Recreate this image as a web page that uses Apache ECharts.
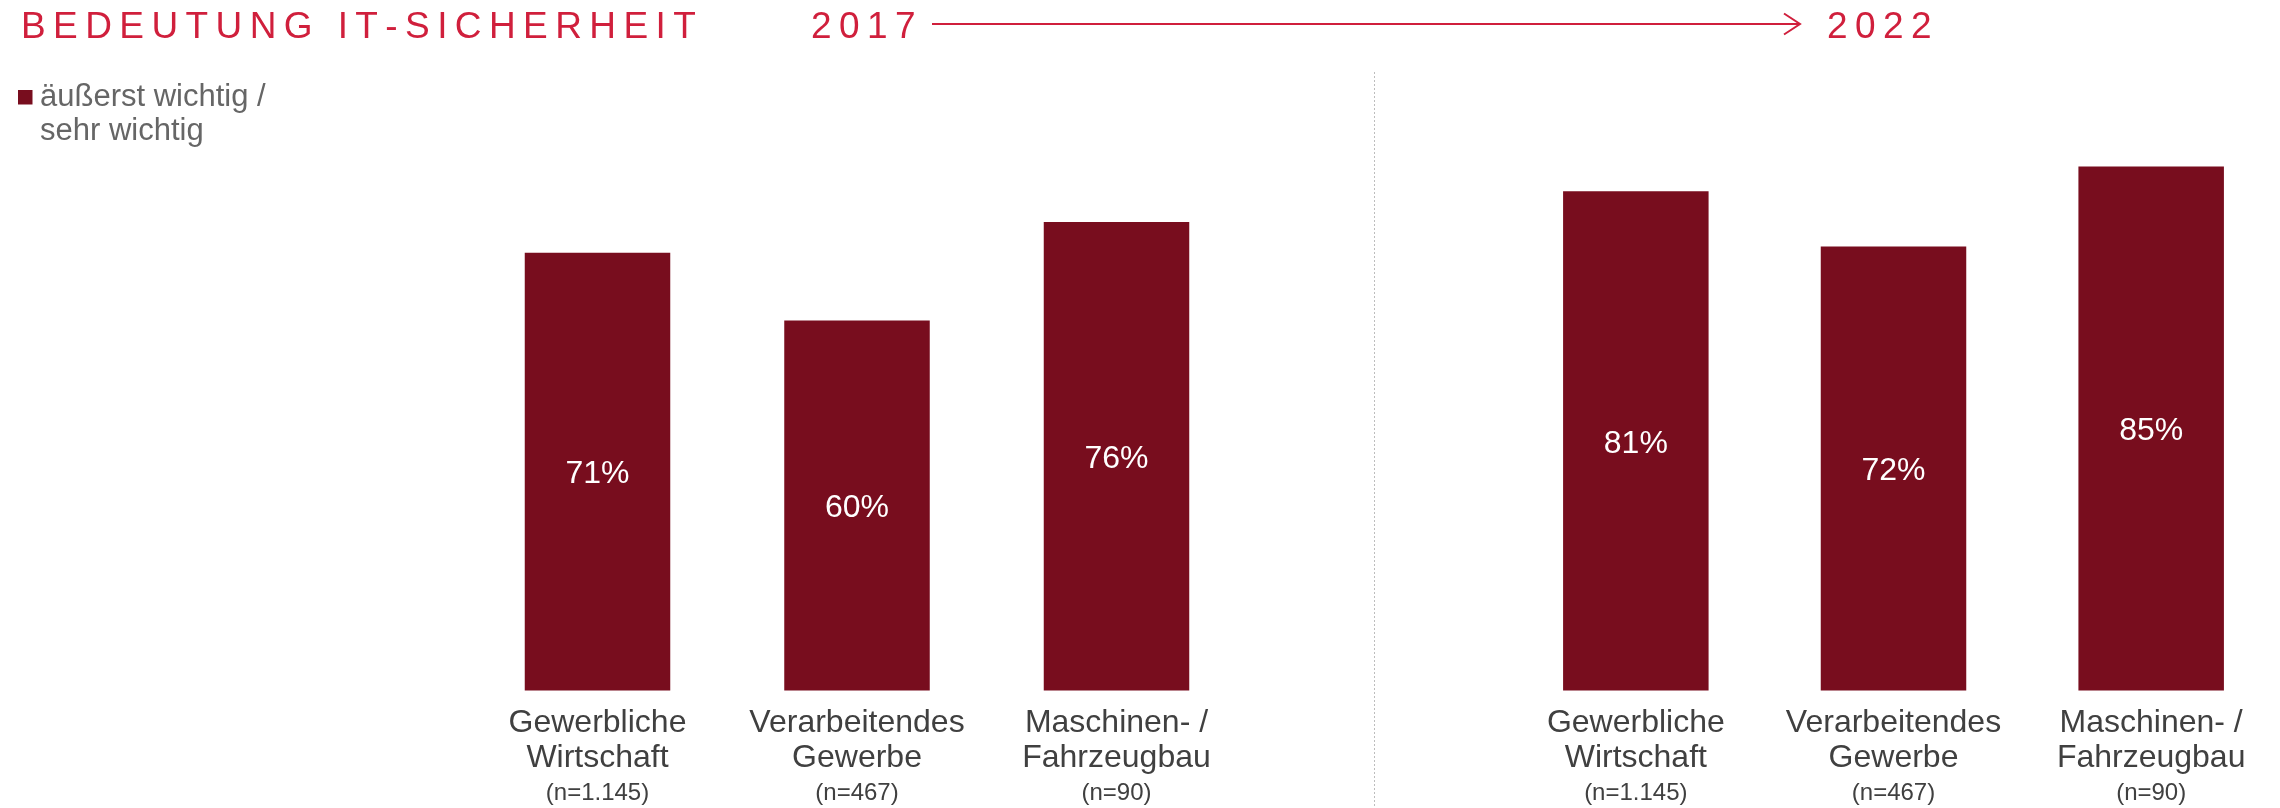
<!DOCTYPE html>
<html>
<head>
<meta charset="utf-8">
<script src="https://cdn.jsdelivr.net/npm/echarts@6/dist/echarts.min.js"></script>
<style>
  html, body { margin: 0; padding: 0; background: #fff; }
  #chart { width: 2280px; height: 808px; }
</style>
</head>
<body>
<div id="chart"></div>
<script>
// data
const categories = ['Gewerbliche\nWirtschaft', 'Verarbeitendes\nGewerbe', 'Maschinen- /\nFahrzeugbau']
const sampleSizes = ['n=1.145', 'n=467', 'n=90']
const values2017 = [71, 60, 76]
const values2022 = [81, 72, 85]
const seriesName = 'äußerst wichtig / sehr wichtig'
const titleText = 'BEDEUTUNG IT-SICHERHEIT'
const yearFrom = '2017'
const yearTo = '2022'

const barColor = '#780d1e'
const red = '#d01f3c'
const fontFamily = 'Liberation Sans, Arial, sans-serif'

// gesperrte Schrift: Zeichen mit schmalem Leerzeichen trennen
const spaced = (s) => s.split('').join('\u2009')

const chart = echarts.init(document.getElementById('chart'))

function axisLabelFormatter(value, index) {
  let str = value.split('\n').map((l) => '{a|' + l + '}').join('\n')
  str += '\n{b|(' + sampleSizes[index] + ')}'
  return str
}

function makeXAxis(gridIndex) {
  return {
    type: 'category',
    gridIndex: gridIndex,
    data: categories,
    axisLine: { show: false },
    axisTick: { show: false },
    axisLabel: {
      margin: 15,
      interval: 0,
      formatter: axisLabelFormatter,
      rich: {
        a: { fontSize: 32, lineHeight: 35, color: '#404040', fontFamily: fontFamily, align: 'center' },
        b: { fontSize: 24, lineHeight: 35, color: '#404040', fontFamily: fontFamily, align: 'center' },
      },
    },
  }
}

function makeYAxis(gridIndex) {
  return {
    type: 'value',
    gridIndex: gridIndex,
    min: 0,
    max: 100,
    show: false,
    splitLine: { show: false },
  }
}

function makeSeries(idx, data) {
  return {
    name: seriesName,
    type: 'bar',
    xAxisIndex: idx,
    yAxisIndex: idx,
    barWidth: 145.5,
    itemStyle: { color: barColor },
    label: {
      show: true,
      position: 'inside',
      offset: [0, 3],
      color: '#fff',
      fontSize: 32,
      fontFamily: fontFamily,
      formatter: '{c}%',
    },
    data: data,
  }
}

const option = {
  backgroundColor: '#fff',
  animation: false,
  grid: [
    { left: 467.75, width: 778.5, top: 74, height: 616.5 },
    { left: 1507, width: 778.5, top: 74, height: 616.5 },
  ],
  xAxis: [makeXAxis(0), makeXAxis(1)],
  yAxis: [makeYAxis(0), makeYAxis(1)],
  series: [makeSeries(0, values2017), makeSeries(1, values2022)],
  graphic: [
    // Titel
    {
      type: 'text',
      left: 21,
      top: 9,
      style: {
        text: spaced(titleText),
        fontSize: 37,
        fontFamily: fontFamily,
        fill: red,
      },
    },
    {
      type: 'text',
      left: 811,
      top: 9,
      style: { text: spaced(yearFrom), fontSize: 37, fontFamily: fontFamily, fill: red },
    },
    {
      type: 'text',
      left: 1827,
      top: 9,
      style: { text: spaced(yearTo), fontSize: 37, fontFamily: fontFamily, fill: red },
    },
    // Pfeil 2017 -> 2022
    {
      type: 'line',
      shape: { x1: 932, y1: 24, x2: 1799, y2: 24 },
      style: { stroke: red, lineWidth: 2 },
    },
    {
      type: 'polyline',
      shape: { points: [[1784, 13.5], [1800, 24], [1784, 34.5]] },
      style: { stroke: red, lineWidth: 2, fill: null },
    },
    // Trennlinie
    {
      type: 'line',
      shape: { x1: 1374.5, y1: 72, x2: 1374.5, y2: 808 },
      style: { stroke: '#bdbdbd', lineWidth: 1, lineDash: [2, 2] },
    },
    // Legende
    {
      type: 'rect',
      shape: { x: 18, y: 90, width: 14.5, height: 14.5 },
      style: { fill: barColor },
    },
    {
      type: 'text',
      x: 40,
      y: 80.5,
      style: {
        text: 'äußerst wichtig /\nsehr wichtig',
        fontSize: 31,
        lineHeight: 34,
        fontFamily: fontFamily,
        fill: '#666666',
        verticalAlign: 'top',
      },
    },
  ],
}

chart.setOption(option, true)
</script>
</body>
</html>
